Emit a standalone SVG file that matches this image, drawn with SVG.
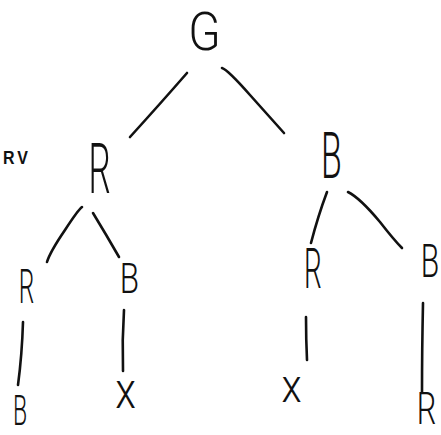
<svg xmlns="http://www.w3.org/2000/svg" width="441" height="435" viewBox="0 0 441 435">
  <style>
    .lbl { font-family: "Roboto", "Liberation Sans", sans-serif; font-weight: 300; fill: #111; text-anchor: middle; }
    .note { font-family: "Liberation Sans", sans-serif; font-weight: bold; font-size: 16px; letter-spacing: 3px; fill: #111; }
    .edge { fill: none; stroke: #111; stroke-width: 2.6; stroke-linecap: round; stroke-linejoin: round; }
  </style>
  <rect width="441" height="435" fill="#fff"/>

  <!-- tree edges -->
  <g id="connectors">
    <path class="edge" d="M187,73 Q160,104 130,137"/>
    <path class="edge" d="M222,68 Q228,70 250,95 Q268,115 284,133"/>
    <path class="edge" d="M82,207 Q78,210 65,230 Q50,252 47,262"/>
    <path class="edge" d="M93,213 Q107,236 119,257"/>
    <path class="edge" d="M327,192 Q318,216 311,243"/>
    <path class="edge" d="M348,192 Q360,198 380,222 Q394,240 402,248"/>
    <path class="edge" d="M23,322 Q22,355 18,385"/>
    <path class="edge" d="M124,310 Q122,340 123,371"/>
    <path class="edge" d="M306,317 Q306,340 307,360"/>
    <path class="edge" d="M423,303 Q422,350 422,392"/>
  </g>

  <!-- side note -->
  <g id="note"><text class="note" transform="translate(3,164) scale(1,1.15)">RV</text></g>

  <!-- root -->
  <g id="n-root"><text class="lbl" font-size="54" transform="translate(204.5,50) scale(0.88,1)">G</text></g>

  <!-- level 1 -->
  <g id="n-l"><text class="lbl" font-size="70" transform="translate(99.5,193) scale(0.5,1)">R</text></g>
  <g id="n-r"><text class="lbl" font-size="64" transform="translate(331.5,178) scale(0.53,1)">B</text></g>

  <!-- level 2 -->
  <g id="n-ll"><text class="lbl" font-size="49" transform="translate(26.5,303) scale(0.5,1)">R</text></g>
  <g id="n-lr"><text class="lbl" font-size="42" transform="translate(129.5,293) scale(0.75,1)">B</text></g>
  <g id="n-rl"><text class="lbl" font-size="56" transform="translate(313,288) scale(0.5,1)">R</text></g>
  <g id="n-rr"><text class="lbl" font-size="47" transform="translate(430,277) scale(0.64,1)">B</text></g>

  <!-- level 3 -->
  <g id="n-lll"><text class="lbl" font-size="42" transform="translate(20,424.5) scale(0.55,1)">B</text></g>
  <g id="n-lrl"><text class="lbl" font-size="50" transform="translate(125.5,408) scale(0.85,1)">x</text></g>
  <g id="n-rll"><text class="lbl" font-size="46" transform="translate(291.5,402) scale(0.9,1)">x</text></g>
  <g id="n-rrl"><text class="lbl" font-size="44" transform="translate(426.5,424) scale(0.7,1)">R</text></g>
</svg>
